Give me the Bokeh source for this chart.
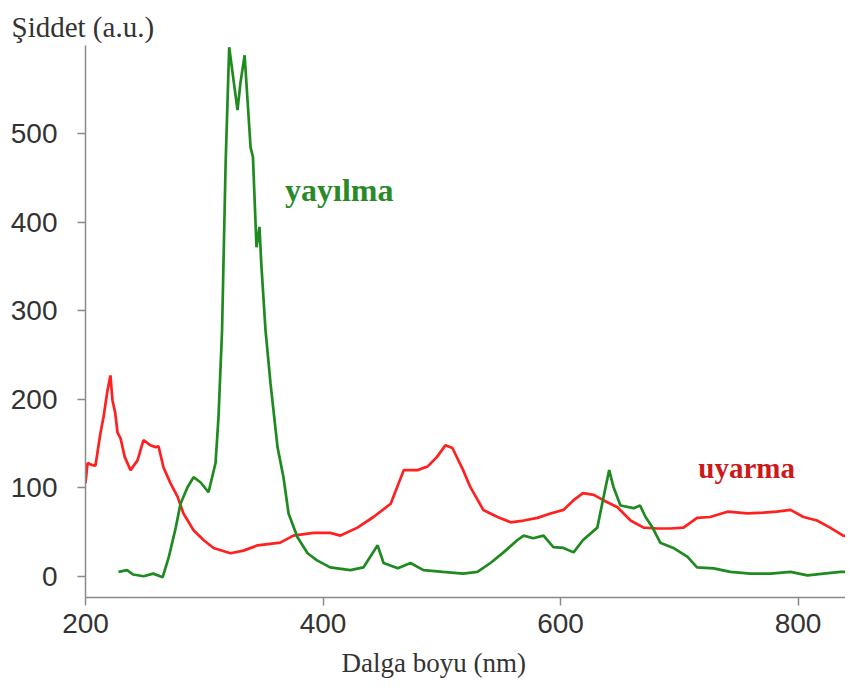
from bokeh.plotting import figure
from bokeh.models import Label, FixedTicker, Range1d, Title
from bokeh.embed import file_html
from bokeh.resources import INLINE

# excitation (uyarma) spectrum
red_wl = [200, 201.7, 205, 208.4, 212.6, 215.2, 218.5, 221, 222.7, 225, 227, 229.5, 233, 237.9, 243.8,
          248.8, 254.7, 259, 261.5, 265.7, 271.6, 277.5, 282.5, 291, 299.4, 307.8, 322, 333, 345, 364,
          375, 392, 406, 414.7, 429, 442.5, 457, 468, 479.6, 488, 496, 503, 509, 518, 524, 535, 547,
          558, 569, 580.6, 591.6, 602.5, 611, 619, 628, 636, 648, 659, 670, 681.7, 692.6, 703.6, 715,
          726, 740.6, 757.5, 771, 782, 793.7, 804.6, 816, 827, 838, 850]
red_I = [105, 128, 126, 125, 162, 180, 210, 227, 199, 185, 162, 156, 135, 120, 131, 154, 148, 146, 147,
         123, 105, 90, 71, 52, 41, 32, 26, 29, 35, 38, 46, 49, 49, 46, 55, 67, 82, 120, 120, 124, 135,
         148, 145, 120, 101, 75, 67, 61, 63, 66, 71, 75, 86, 94, 92, 86, 78, 63, 55, 54, 54, 55, 66, 67,
         73, 71, 72, 73, 75, 67, 63, 55, 46, 44]

# emission (yayılma) spectrum
green_wl = [227.8, 235, 240, 249, 257, 265, 270, 276, 280, 286, 291, 297, 303.6, 309.5, 312, 315, 318,
            321, 328, 330.5, 334, 339, 341, 344, 346.5, 348, 351.6, 355.8, 361.7, 366.7, 371, 378.5,
            387, 395, 406, 423, 434, 446, 451, 463, 473.7, 484.6, 501, 518, 530, 541, 552, 563.8, 569,
            577, 585.7, 594, 602.5, 611, 619, 631, 638, 641, 644.6, 650.5, 661.5, 667, 671.6, 677.5,
            684, 695, 707, 715, 729, 743, 760, 777, 793.7, 808, 821.5, 836, 850]
green_I = [5, 7, 2, 0, 3, -1, 21, 55, 82, 101, 112, 106, 95, 128, 180, 278, 467, 598, 527, 558, 589, 485,
           474, 372, 395, 354, 278, 218, 146, 112, 71, 44, 26, 18, 10, 7, 10, 35, 15, 9, 15, 7, 5, 3, 5,
           15, 27, 41, 46, 43, 46, 33, 32, 27, 41, 55, 101, 120, 101, 80, 77, 80, 67, 55, 38, 32, 22, 10,
           9, 5, 3, 3, 5, 1, 3, 5, 5]

x_ticks = [200, 400, 600, 800]
y_ticks = [0, 100, 200, 300, 400, 500]

p = figure(width=845, height=688, output_backend="svg", toolbar_location=None,
           x_range=Range1d(200, 840), y_range=Range1d(-24, 600),
           min_border_left=85, min_border_right=0, min_border_top=45, min_border_bottom=91,
           title="Şiddet (a.u.)", title_location="above")
p.title.text_font = "Liberation Serif"
p.title.text_font_size = "29px"
p.title.text_font_style = "normal"
p.title.text_color = "#333333"
p.title.align = "left"
p.title.offset = -74
p.title.standoff = 6
p.outline_line_color = None
p.xgrid.visible = False
p.ygrid.visible = False
p.background_fill_color = "white"

p.line(red_wl, red_I, line_color="#ff2020", line_width=2.7)
p.line(green_wl, green_I, line_color="#1f8a1f", line_width=2.7)

for ax in (p.xaxis[0], p.yaxis[0]):
    ax.axis_line_color = "#8a8a8a"
    ax.axis_line_width = 1.5
    ax.major_tick_line_color = "#8a8a8a"
    ax.major_tick_line_width = 1.5
    ax.major_tick_out = 8
    ax.major_tick_in = 0
    ax.minor_tick_line_color = None
    ax.major_label_text_font = "Liberation Sans"
    ax.major_label_text_font_size = "28px"
    ax.major_label_text_color = "#333333"
p.xaxis[0].ticker = FixedTicker(ticks=x_ticks)
p.yaxis[0].ticker = FixedTicker(ticks=y_ticks)
p.xaxis[0].major_label_standoff = 8
p.yaxis[0].major_label_standoff = 20

p.add_layout(Title(text="Dalga boyu (nm)", text_font="Liberation Serif", text_font_size="27px",
                   text_font_style="normal", text_color="#333333", align="left", offset=256,
                   standoff=21), "below")

p.add_layout(Label(x=368, y=416, text="yayılma", text_font="Liberation Serif",
                   text_font_size="32px", text_font_style="bold", text_color="#2a8a2a"))
p.add_layout(Label(x=716, y=104, text="uyarma", text_font="Liberation Serif",
                   text_font_size="29px", text_font_style="bold", text_color="#cc1a1a"))

open("out.html", "w").write(file_html(p, INLINE))
